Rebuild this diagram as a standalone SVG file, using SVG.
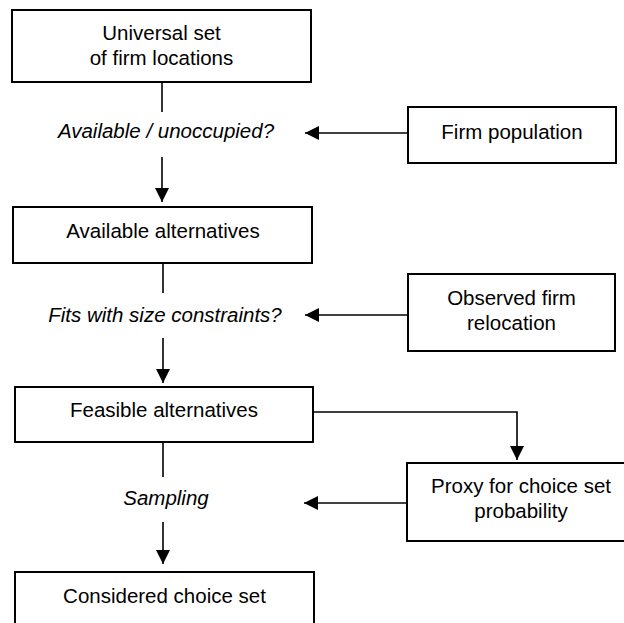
<svg xmlns="http://www.w3.org/2000/svg" width="624" height="623" viewBox="0 0 624 623">
<style>
.box{fill:#fff;stroke:#000;stroke-width:2}
.t{font-family:"Liberation Sans",Arial,sans-serif;font-size:20.5px;fill:#000;text-anchor:middle}
.i{font-style:italic}
.c{fill:none;stroke:#000;stroke-width:1.6}
</style>
<defs>
<marker id="ah" markerWidth="14" markerHeight="14" viewBox="0 0 14 14" refX="14" refY="7" orient="auto" markerUnits="userSpaceOnUse">
<path d="M0,0 L14,7 L0,14 Z" fill="#000"/>
</marker>
</defs>
<rect width="624" height="623" fill="#fff"/>
<g id="connectors">
<line class="c" x1="162" y1="82" x2="162" y2="112"/>
<line class="c" x1="162" y1="157" x2="162" y2="202" marker-end="url(#ah)"/>
<line class="c" x1="408" y1="133" x2="305" y2="133" marker-end="url(#ah)"/>
<line class="c" x1="163" y1="263" x2="163" y2="293"/>
<line class="c" x1="163" y1="338" x2="163" y2="383" marker-end="url(#ah)"/>
<line class="c" x1="408" y1="315" x2="305" y2="315" marker-end="url(#ah)"/>
<line class="c" x1="163" y1="442" x2="163" y2="477"/>
<line class="c" x1="163" y1="522" x2="163" y2="564" marker-end="url(#ah)"/>
<polyline class="c" points="313,412 517,412 517,460" marker-end="url(#ah)"/>
<line class="c" x1="407" y1="503" x2="304" y2="503" marker-end="url(#ah)"/>
</g>
<g id="universal">
<rect class="box" x="12" y="10" width="299" height="72"/>
<text class="t" x="161.5" y="40">Universal set</text>
<text class="t" x="161.5" y="65">of firm locations</text>
</g>
<g id="q1"><text class="t i" x="166" y="138">Available / unoccupied?</text></g>
<g id="firmpop">
<rect class="box" x="408" y="107" width="208" height="56"/>
<text class="t" x="512" y="139">Firm population</text>
</g>
<g id="available">
<rect class="box" x="13" y="207" width="299" height="56"/>
<text class="t" x="163" y="238">Available alternatives</text>
</g>
<g id="q2"><text class="t i" x="165" y="322">Fits with size constraints?</text></g>
<g id="observed">
<rect class="box" x="408" y="274" width="207" height="77"/>
<text class="t" x="511.5" y="305">Observed firm</text>
<text class="t" x="511.5" y="330">relocation</text>
</g>
<g id="feasible">
<rect class="box" x="15" y="387" width="298" height="55"/>
<text class="t" x="164" y="417">Feasible alternatives</text>
</g>
<g id="q3"><text class="t i" x="166" y="505">Sampling</text></g>
<g id="proxy">
<rect class="box" x="407" y="463" width="240" height="78"/>
<text class="t" x="521" y="493">Proxy for choice set</text>
<text class="t" x="521" y="518">probability</text>
</g>
<g id="considered">
<rect class="box" x="15" y="572" width="299" height="70"/>
<text class="t" x="164.5" y="603">Considered choice set</text>
</g>
</svg>
